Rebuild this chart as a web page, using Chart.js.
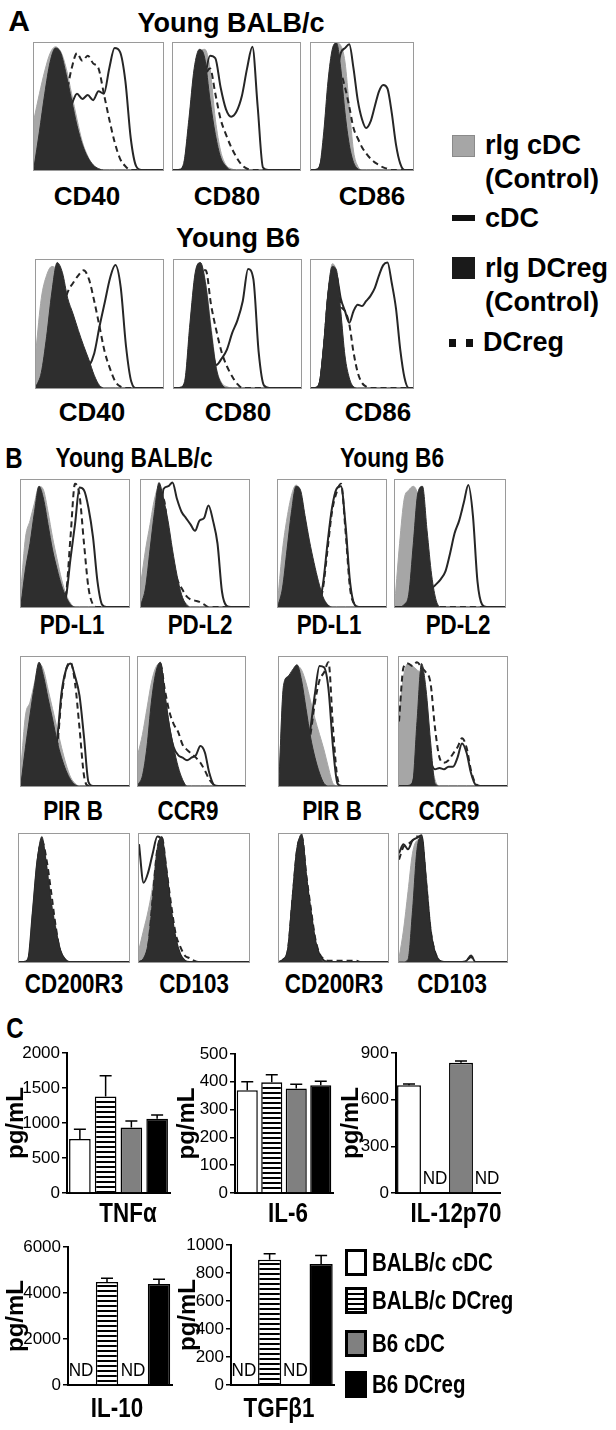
<!DOCTYPE html>
<html>
<head>
<meta charset="utf-8">
<title>DC phenotype and cytokine release</title>
<script src="https://cdn.jsdelivr.net/npm/chart.js@4.4.1/dist/chart.umd.min.js"></script>
<style>
  html, body { margin: 0; padding: 0; background: #fff; }
  body { position: relative; width: 616px; height: 1430px; overflow: hidden;
         font-family: "Liberation Sans", Arial, Helvetica, sans-serif; color: #000; }
  .box { position: absolute; border: 1px solid #9a9a9a; }
  .box canvas, .bar canvas { display: block; }
  .bar { position: absolute; }
  .t { position: absolute; font-weight: bold; white-space: nowrap; line-height: 1; }
  .key { position: absolute; box-sizing: border-box; }
</style>
</head>
<body>
<script>
Chart.defaults.font.family = '"Liberation Sans", Arial, sans-serif';
Chart.defaults.color = '#000';

// fluorescence channels (log scale, 25 bins across each plot)
const bins = [0,1,2,3,4,5,6,7,8,9,10,11,12,13,14,15,16,17,18,19,20,21,22,23,24];

// ---- Panel A: young BALB/c ----
const aBalbCD40 = {
  isoCDC:   [40,60,78,92,97,93,80,60,40,22,11,4,1,0,0,0,0,0,0,0,0,0,0,0,0],
  cDC:      [0,2,8,15,25,35,45,52,60,56,59,55,62,60,80,96,93,70,25,3,0,0,0,0,0],
  isoDCreg: [2,30,60,85,96,92,75,55,35,20,10,4,1,0,0,0,0,0,0,0,0,0,0,0,0],
  DCreg:    [0,3,10,20,35,48,60,80,92,86,90,84,80,60,40,22,9,3,0,0,0,0,0,0,0]
};
const aBalbCD80 = {
  isoCDC:   [0,0,2,35,75,92,95,80,40,15,4,1,0,0,0,0,0,0,0,0,0,0,0,0,0],
  cDC:      [0,0,2,10,30,50,72,90,88,65,48,42,46,58,80,97,50,2,0,0,0,0,0,0,0],
  isoDCreg: [0,0,5,40,80,95,88,55,28,10,3,0,0,0,0,0,0,0,0,0,0,0,0,0,0],
  DCreg:    [0,0,2,10,30,50,72,80,60,40,28,18,10,4,1,0,0,0,0,0,0,0,0,0,0]
};
const aBalbCD86 = {
  isoCDC:   [0,0,2,20,55,85,100,98,85,50,15,3,0,0,0,0,0,0,0,0,0,0,0,0,0],
  cDC:      [0,0,2,15,40,60,75,92,96,99,80,55,40,33,38,50,62,67,64,45,20,5,0,0,0],
  isoDCreg: [0,0,3,30,70,95,100,80,45,20,6,1,0,0,0,0,0,0,0,0,0,0,0,0,0],
  DCreg:    [0,0,2,15,40,60,72,75,65,50,33,25,18,13,9,6,4,2,1,0,0,0,0,0,0]
};
// ---- Panel A: young B6 ----
const aB6CD40 = {
  isoCDC:   [30,70,88,95,92,80,60,40,25,12,5,1,0,0,0,0,0,0,0,0,0,0,0,0,0],
  cDC:      [0,0,0,2,4,6,8,10,12,14,17,27,48,67,86,96,79,33,5,0,0,0,0,0,0],
  isoDCreg: [1,12,40,75,98,90,70,58,45,33,22,10,2,0,0,0,0,0,0,0,0,0,0,0,0],
  DCreg:    [0,2,8,20,40,60,75,82,88,92,85,68,48,28,15,5,1,0,0,0,0,0,0,0,0]
};
const aB6CD80 = {
  isoCDC:   [0,0,3,45,88,97,82,48,16,4,1,0,0,0,0,0,0,0,0,0,0,0,0,0,0],
  cDC:      [0,0,2,15,45,75,60,35,18,23,30,43,53,68,93,85,28,2,0,0,0,0,0,0,0],
  isoDCreg: [0,0,5,50,90,98,80,45,15,3,0,0,0,0,0,0,0,0,0,0,0,0,0,0,0],
  DCreg:    [0,0,2,20,60,90,92,65,45,28,17,9,3,0,0,0,0,0,0,0,0,0,0,0,0]
};
const aB6CD86 = {
  isoCDC:   [0,0,4,32,72,97,90,58,22,6,1,0,0,0,0,0,0,0,0,0,0,0,0,0,0],
  cDC:      [0,0,3,30,70,90,88,70,60,51,60,65,64,68,72,78,88,96,98,82,62,30,8,0,0],
  isoDCreg: [0,0,5,35,75,95,92,60,25,8,1,0,0,0,0,0,0,0,0,0,0,0,0,0,0],
  DCreg:    [0,0,3,30,70,90,88,65,60,50,28,12,4,1,0,0,0,0,0,0,0,0,0,0,0]
};

// ---- Panel B: young BALB/c ----
const bBalbPDL1 = {
  isoCDC:   [15,55,68,82,95,92,75,55,38,22,10,3,0,0,0,0,0,0,0,0,0,0,0,0,0],
  cDC:      [0,0,0,0,0,0,0,0,0,2,8,38,65,94,92,78,55,20,2,0,0,0,0,0,0],
  isoDCreg: [2,30,50,75,95,85,65,45,30,17,8,2,0,0,0,0,0,0,0,0,0,0,0,0,0],
  DCreg:    [0,0,0,0,0,0,0,0,0,2,10,55,97,88,50,15,2,0,0,0,0,0,0,0,0]
};
const bBalbPDL2 = {
  isoCDC:   [20,45,65,85,95,85,60,35,18,8,3,0,0,0,0,0,0,0,0,0,0,0,0,0,0],
  cDC:      [0,0,0,3,30,93,95,98,85,75,70,65,60,68,70,80,68,50,12,1,0,0,0,0,0],
  isoDCreg: [2,15,45,75,98,85,68,45,25,10,2,0,0,0,0,0,0,0,0,0,0,0,0,0,0],
  DCreg:    [0,0,0,3,30,85,60,35,22,15,9,6,5,4,2,0,0,0,0,0,0,0,0,0,0]
};
const bBalbPIRB = {
  isoCDC:   [15,55,65,80,95,90,75,60,45,30,17,7,2,0,0,0,0,0,0,0,0,0,0,0,0],
  cDC:      [0,0,0,0,0,5,12,22,35,72,90,95,85,70,38,3,0,0,0,0,0,0,0,0,0],
  isoDCreg: [2,30,55,78,96,85,68,52,35,22,12,5,1,0,0,0,0,0,0,0,0,0,0,0,0],
  DCreg:    [0,0,0,0,0,5,12,22,30,68,90,96,80,45,8,0,0,0,0,0,0,0,0,0,0]
};
const bBalbCCR9 = {
  isoCDC:   [25,40,60,80,92,95,70,40,15,4,0,0,0,0,0,0,0,0,0,0,0,0,0,0,0],
  cDC:      [0,0,5,30,70,95,70,45,30,24,22,20,22,24,31,26,10,1,0,0,0,0,0,0,0],
  isoDCreg: [1,8,30,65,88,96,70,48,30,15,5,0,0,0,0,0,0,0,0,0,0,0,0,0,0],
  DCreg:    [0,0,5,30,70,95,75,58,48,42,32,28,25,22,18,12,5,1,0,0,0,0,0,0,0]
};
const bBalbCD200R3 = {
  isoCDC:   [0,0,2,35,78,96,78,50,28,10,3,0,0,0,0,0,0,0,0,0,0,0,0,0,0],
  cDC:      [0,0,2,38,78,95,72,44,24,9,2,0,0,0,0,0,0,0,0,0,0,0,0,0,0],
  isoDCreg: [0,0,2,40,80,98,72,45,25,9,2,0,0,0,0,0,0,0,0,0,0,0,0,0,0],
  DCreg:    [0,0,2,30,75,95,80,55,28,8,2,0,0,0,0,0,0,0,0,0,0,0,0,0,0]
};
const bBalbCD103 = {
  isoCDC:   [10,25,40,60,90,95,65,38,15,4,1,0,0,0,0,0,0,0,0,0,0,0,0,0,0],
  cDC:      [92,62,70,85,98,95,70,40,18,6,1,0,0,0,0,0,0,0,0,0,0,0,0,0,0],
  isoDCreg: [0,3,15,50,88,98,70,40,18,6,1,0,0,0,0,0,0,0,0,0,0,0,0,0,0],
  DCreg:    [0,2,12,50,88,97,72,45,22,12,5,3,1,0,0,0,0,0,0,0,0,0,0,0,0]
};
// ---- Panel B: young B6 ----
const bB6PDL1 = {
  isoCDC:   [8,45,70,88,96,90,70,48,30,15,6,2,0,0,0,0,0,0,0,0,0,0,0,0,0],
  cDC:      [0,0,0,0,0,0,0,0,0,2,18,50,78,93,95,65,20,2,0,0,0,0,0,0,0],
  isoDCreg: [1,15,45,75,95,92,72,52,35,20,8,2,0,0,0,0,0,0,0,0,0,0,0,0,0],
  DCreg:    [0,0,0,0,0,0,0,0,0,2,15,45,75,90,97,60,15,2,0,0,0,0,0,0,0]
};
const bB6PDL2 = {
  isoCDC:   [5,50,85,92,95,88,65,35,10,2,0,0,0,0,0,0,0,0,0,0,0,0,0,0,0],
  cDC:      [0,0,0,0,5,70,50,22,15,18,22,28,42,58,68,82,96,72,20,2,0,0,0,0,0],
  isoDCreg: [0,0,2,10,50,90,95,60,25,5,0,0,0,0,0,0,0,0,0,0,0,0,0,0,0],
  DCreg:    [0,0,0,0,5,70,45,15,5,1,0,0,0,0,0,0,0,0,0,0,0,0,0,0,0]
};
const bB6PIRB = {
  isoCDC:   [5,75,82,88,93,90,80,66,52,40,28,14,2,0,0,0,0,0,0,0,0,0,0,0,0],
  cDC:      [0,0,0,0,2,8,25,45,72,93,92,75,30,2,0,0,0,0,0,0,0,0,0,0,0],
  isoDCreg: [5,78,85,90,94,82,60,38,22,10,2,0,0,0,0,0,0,0,0,0,0,0,0,0,0],
  DCreg:    [0,0,0,0,2,8,22,40,65,82,88,96,45,6,0,0,0,0,0,0,0,0,0,0,0]
};
const bB6CCR9 = {
  isoCDC:   [55,85,95,93,90,85,60,25,5,0,0,0,0,0,0,0,0,0,0,0,0,0,0,0,0],
  cDC:      [0,0,0,2,20,50,40,20,13,14,13,15,15,22,33,26,10,1,0,0,0,0,0,0,0],
  isoDCreg: [0,0,0,2,50,95,75,35,2,0,0,0,0,0,0,0,0,0,0,0,0,0,0,0,0],
  DCreg:    [50,92,95,93,96,92,88,80,45,22,18,20,25,30,37,30,12,2,0,0,0,0,0,0,0]
};
const bB6CD200R3 = {
  isoCDC:   [0,0,8,48,88,98,68,40,16,5,1,0,0,0,0,0,0,0,0,0,0,0,0,0,0],
  cDC:      [0,2,10,50,88,98,66,39,16,5,1,0,0,0,0,0,0,0,0,0,0,0,0,0,0],
  isoDCreg: [0,2,10,50,88,100,65,38,15,4,0,0,0,0,0,0,0,0,0,0,0,0,0,0,0],
  DCreg:    [0,2,10,50,88,98,68,42,18,6,2,1,1,1,1,1,1,1,0,0,0,0,0,0,0]
};
const bB6CD103 = {
  isoCDC:   [3,25,55,85,95,96,70,30,8,1,0,0,0,0,0,0,0,0,0,0,0,0,0,0,0],
  cDC:      [85,92,88,95,97,99,62,24,7,1,0,0,0,0,0,1,5,0,0,0,0,0,0,0,0],
  isoDCreg: [0,0,2,40,88,98,60,22,6,1,0,0,0,0,0,0,0,0,0,0,0,0,0,0,0],
  DCreg:    [80,90,92,95,98,97,62,25,8,1,0,0,0,0,0,1,4,0,0,0,0,0,0,0,0]
};

// ---- Panel C: cytokines (pg/mL), null = not detected ----
const groups   = ['BALB/c cDC', 'BALB/c DCreg', 'B6 cDC', 'B6 DCreg'];
const tnfMean  = [770, 1380, 935, 1060];
const tnfErr   = [140, 295, 95, 55];
const il6Mean  = [370, 398, 376, 388];
const il6Err   = [30, 27, 15, 14];
const il12Mean = [692, null, 838, null];
const il12Err  = [9, 0, 10, 0];
const il10Mean = [null, 4480, null, 4390];
const il10Err  = [0, 160, 0, 210];
const tgfMean  = [null, 895, null, 864];
const tgfErr   = [0, 42, 0, 61];

// ---------- helpers ----------
function text(str, x, y, size, sx, left, weight) {
  const el = document.createElement('div');
  el.className = 't';
  el.textContent = str;
  el.style.left = x + 'px';
  el.style.top = y + 'px';
  el.style.fontSize = size + 'px';
  if (weight) el.style.fontWeight = weight;
  if (left) {
    el.style.transformOrigin = '0 50%';
    el.style.transform = `translateY(-50%) scaleX(${sx})`;
  } else {
    el.style.transform = `translate(-50%,-50%) scaleX(${sx})`;
  }
  document.body.appendChild(el);
}

function key(x, y, w, h, css) {
  const el = document.createElement('div');
  el.className = 'key';
  Object.assign(el.style, { left: x + 'px', top: y + 'px', width: w + 'px', height: h + 'px' }, css);
  document.body.appendChild(el);
}

function drawHist(h, left, top, w, ht) {
  const box = document.createElement('div');
  box.className = 'box';
  Object.assign(box.style, { left: left + 'px', top: top + 'px', width: (w - 2) + 'px', height: (ht - 2) + 'px' });
  const cv = document.createElement('canvas');
  cv.width = w - 2; cv.height = ht - 2;
  box.appendChild(cv);
  document.body.appendChild(box);

  const line = { fill: false, pointRadius: 0, borderWidth: 2, borderColor: '#262626', cubicInterpolationMode: 'monotone' };
  new Chart(cv, {
    type: 'line',
    data: {
      labels: bins,
      // first dataset is painted last (on top)
      datasets: [
        { data: h.isoDCreg, fill: 'origin', backgroundColor: '#2e2e2e', borderColor: '#2e2e2e', borderWidth: 1, pointRadius: 0, cubicInterpolationMode: 'monotone' },
        Object.assign({ data: h.cDC }, line),
        Object.assign({ data: h.DCreg, borderDash: [6, 4] }, line),
        { data: h.isoCDC, fill: 'origin', backgroundColor: '#a6a6a6', borderColor: '#a6a6a6', borderWidth: 1, pointRadius: 0, cubicInterpolationMode: 'monotone' }
      ]
    },
    options: {
      animation: false, responsive: false, events: [], devicePixelRatio: 1,
      layout: { padding: 0 },
      plugins: { legend: { display: false }, tooltip: { enabled: false } },
      scales: {
        x: { display: false },
        y: { display: false, min: 0, max: 100 }
      }
    }
  });
}

// striped fill for the DCreg bars
function stripes() {
  const c = document.createElement('canvas');
  c.width = 6; c.height = 5;
  const g = c.getContext('2d');
  g.fillStyle = '#fff'; g.fillRect(0, 0, 6, 5);
  g.fillStyle = '#000'; g.fillRect(0, 3, 6, 2);
  return g.createPattern(c, 'repeat');
}

const errorBars = {
  id: 'errorBars',
  afterDatasetsDraw(chart, args, opts) {
    const { ctx, scales: { x, y } } = chart;
    const mean = chart.data.datasets[0].data;
    ctx.save();
    ctx.strokeStyle = '#000';
    ctx.lineWidth = 1.5;
    mean.forEach((v, i) => {
      if (v == null || !opts.err[i]) return;
      const px = x.getPixelForValue(i);
      const y0 = y.getPixelForValue(v);
      const y1 = y.getPixelForValue(v + opts.err[i]);
      ctx.beginPath();
      ctx.moveTo(px, y0); ctx.lineTo(px, y1);
      ctx.moveTo(px - 6, y1); ctx.lineTo(px + 6, y1);
      ctx.stroke();
    });
    ctx.restore();
  }
};

const ndLabels = {
  id: 'ndLabels',
  afterDatasetsDraw(chart) {
    const { ctx, scales: { x, y } } = chart;
    const mean = chart.data.datasets[0].data;
    ctx.save();
    ctx.fillStyle = '#000';
    ctx.font = '19px "Liberation Sans", Arial, sans-serif';
    ctx.textAlign = 'center';
    ctx.textBaseline = 'alphabetic';
    mean.forEach((v, i) => {
      if (v != null) return;
      ctx.save();
      ctx.translate(x.getPixelForValue(i), y.getPixelForValue(0) - 9);
      ctx.scale(0.9, 1);
      ctx.fillText('ND', 0, 0);
      ctx.restore();
    });
    ctx.restore();
  }
};

function drawBars(s) {
  const T = s.axisTop - 15;
  const W = s.axisRight + 4 - s.L;
  const H = s.axisBottom + 14 - T;
  const wrap = document.createElement('div');
  wrap.className = 'bar';
  Object.assign(wrap.style, { left: s.L + 'px', top: T + 'px', width: W + 'px', height: H + 'px' });
  const cv = document.createElement('canvas');
  cv.width = W; cv.height = H;
  wrap.appendChild(cv);
  document.body.appendChild(wrap);

  new Chart(cv, {
    type: 'bar',
    data: {
      labels: groups,
      datasets: [{
        data: s.mean,
        backgroundColor: ['#ffffff', stripes(), '#808080', '#000000'],
        borderColor: '#000', borderWidth: 1.5,
        barPercentage: s.barPct, categoryPercentage: 1
      }]
    },
    options: {
      animation: false, responsive: false, events: [], devicePixelRatio: 1,
      layout: { padding: { top: 15, bottom: 14, right: 4, left: 0 } },
      plugins: { legend: { display: false }, tooltip: { enabled: false }, errorBars: { err: s.err } },
      scales: {
        x: {
          grid: { display: false, drawTicks: false },
          ticks: { display: false },
          border: { color: '#000', width: 2 }
        },
        y: {
          min: 0, max: s.max,
          ticks: { stepSize: s.step, font: { size: 17 }, padding: 2, color: '#000', callback: v => String(v) },
          grid: { drawOnChartArea: false, tickLength: 5, color: '#000', lineWidth: 1.5 },
          border: { color: '#000', width: 2 },
          title: { display: true, text: 'pg/mL', font: { size: 24, weight: 'bold' }, padding: { top: 1, bottom: 0 } },
          afterFit: sc => { sc.width = s.axisX - s.L; }
        }
      }
    },
    plugins: [errorBars, ndLabels]
  });
}

// ---------- Panel A ----------
text('A', 19, 21, 30, 1);
text('Young BALB/c', 231, 23, 27, 1);
text('Young B6', 238, 238, 27, 1);

[[aBalbCD40, 33, 42, 131, 129], [aBalbCD80, 172, 42, 129, 129], [aBalbCD86, 310, 42, 104, 129],
 [aB6CD40, 35, 259, 129, 130], [aB6CD80, 173, 259, 129, 130], [aB6CD86, 310, 259, 104, 130]]
  .forEach(b => drawHist(...b));

text('CD40', 87, 196, 26, 1);  text('CD80', 227, 196, 26, 1);  text('CD86', 372, 196, 26, 1);
text('CD40', 92, 412, 26, 1);  text('CD80', 238, 412, 26, 1);  text('CD86', 378, 412, 26, 1);

// legend A
key(452, 135, 23, 22, { background: '#a6a6a6', border: '1px solid #8a8a8a' });
text('rlg cDC', 485, 145, 27, 1, true);
text('(Control)', 485, 179, 27, 1, true);
key(452, 215, 23, 6, { background: '#111' });
text('cDC', 485, 218, 27, 1, true);
key(452, 257, 23, 22, { background: '#1a1a1a' });
text('rlg DCreg', 485, 268, 27, 1, true);
text('(Control)', 485, 302, 27, 1, true);
key(449, 339, 7, 8, { background: '#111' });
key(466, 339, 7, 8, { background: '#111' });
text('DCreg', 483, 342, 27, 1, true);

// ---------- Panel B ----------
text('B', 14, 458, 30, 0.8);
text('Young BALB/c', 134, 458, 28, 0.81);
text('Young B6', 392, 458, 28, 0.81);

[[bBalbPDL1, 20, 479, 110, 129], [bBalbPDL2, 140, 479, 110, 129],
 [bB6PDL1, 277, 479, 110, 129], [bB6PDL2, 394, 479, 112, 129],
 [bBalbPIRB, 20, 656, 110, 131], [bBalbCCR9, 137, 656, 109, 131],
 [bB6PIRB, 278, 656, 110, 131], [bB6CCR9, 398, 656, 110, 131],
 [bBalbCD200R3, 18, 833, 112, 130], [bBalbCD103, 138, 833, 112, 130],
 [bB6CD200R3, 278, 833, 111, 130], [bB6CD103, 398, 833, 110, 130]]
  .forEach(b => drawHist(...b));

text('PD-L1', 72, 625, 28, 0.8);   text('PD-L2', 200, 625, 28, 0.8);
text('PD-L1', 329, 625, 28, 0.8);  text('PD-L2', 458, 625, 28, 0.8);
text('PIR B', 73, 811, 28, 0.8);   text('CCR9', 188, 811, 28, 0.8);
text('PIR B', 332, 811, 28, 0.8);  text('CCR9', 449, 811, 28, 0.8);
text('CD200R3', 74, 984, 28, 0.8); text('CD103', 194, 984, 28, 0.8);
text('CD200R3', 334, 984, 28, 0.8); text('CD103', 452, 984, 28, 0.8);

// ---------- Panel C ----------
text('C', 15, 1028, 30, 0.8);

drawBars({ mean: tnfMean,  err: tnfErr,  max: 2000, step: 500,  L: 1,   axisX: 67,  axisTop: 1053, axisBottom: 1193, axisRight: 170, barPct: 0.84 });
drawBars({ mean: il6Mean,  err: il6Err,  max: 500,  step: 100,  L: 172, axisX: 235, axisTop: 1054, axisBottom: 1193, axisRight: 333, barPct: 0.86 });
drawBars({ mean: il12Mean, err: il12Err, max: 900,  step: 300,  L: 336, axisX: 396, axisTop: 1053, axisBottom: 1193, axisRight: 500, barPct: 0.92 });
drawBars({ mean: il10Mean, err: il10Err, max: 6000, step: 2000, L: 1,   axisX: 68,  axisTop: 1247, axisBottom: 1385, axisRight: 172, barPct: 0.86 });
drawBars({ mean: tgfMean,  err: tgfErr,  max: 1000, step: 200,  L: 173, axisX: 231, axisTop: 1245, axisBottom: 1385, axisRight: 334, barPct: 0.9 });

text('TNFα', 128, 1213, 28, 0.8);
text('IL-6', 288, 1213, 28, 0.8);
text('IL-12p70', 456, 1213, 28, 0.8);
text('IL-10', 117, 1408, 28, 0.8);
text('TGFβ1', 279, 1408, 28, 0.8);

// legend C
key(345, 1249, 22, 27, { background: '#fff', border: '3px solid #000' });
key(345, 1287, 22, 27, { background: 'repeating-linear-gradient(to bottom, #fff 0 3px, #000 3px 5px)', border: '3px solid #000' });
key(345, 1330, 22, 27, { background: '#808080', border: '3px solid #000' });
key(345, 1371, 22, 27, { background: '#000', border: '3px solid #000' });
text('BALB/c cDC', 372, 1262, 25, 0.82, true);
text('BALB/c DCreg', 372, 1300, 25, 0.82, true);
text('B6 cDC', 372, 1343, 25, 0.82, true);
text('B6 DCreg', 372, 1384, 25, 0.82, true);
</script>
</body>
</html>
